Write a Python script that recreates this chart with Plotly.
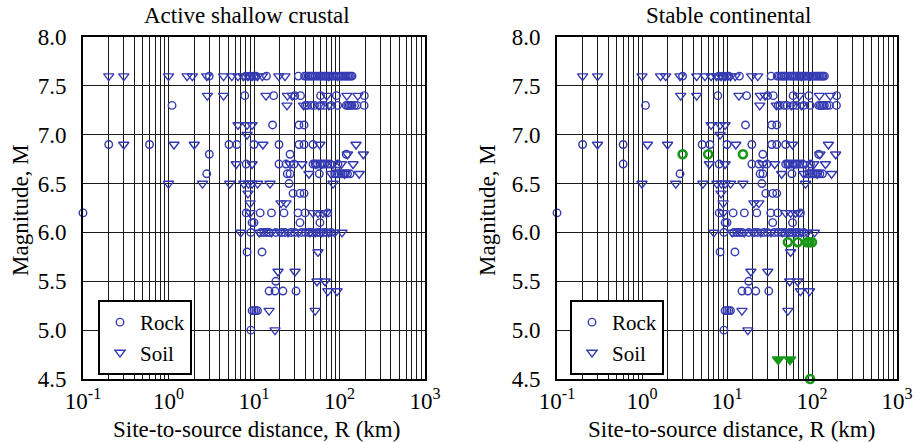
import plotly.graph_objects as go

# ---------------- data ----------------
# Blue "Rock" (circles), common to both panels
rock_R = [3.0, 8.0, 9.0, 10, 10.5, 14, 33, 39, 41, 43, 45, 47, 49, 52, 55, 58, 61, 64, 67, 70, 73, 77, 81, 85, 90,
          100, 105, 110, 115, 120, 125, 130, 135, 140,
          7.8, 17, 30, 35, 60, 92, 195,
          1.1, 40, 42, 47, 51, 60, 66, 80, 95, 120, 125, 130, 135, 140, 150, 160, 194,
          16.5, 33.6, 38.5,
          0.2, 0.6, 5.1, 6.3, 10, 19.6, 33.6, 38.5, 49,
          3.0, 26.4, 120,
          8.1, 19.6, 23.7, 29.4, 49, 52, 55, 59, 63, 67, 72, 78, 96,
          2.8, 24.5, 26.4, 58, 88, 93, 98, 104, 110, 117, 124, 133,
          25.7,
          28.6, 34.5, 38.5,
          0.1, 8.1, 11.8, 16, 22.4, 32.7, 39.5, 73,
          9.5, 10, 34.5, 59,
          9.2, 12, 13, 14, 15, 18, 21, 23, 27, 30, 36, 40, 44, 48, 55, 58, 65, 70, 80,
          8.3, 12.4,
          18,
          15, 17.6, 21.8, 31,
          9.5, 10, 10.5, 11,
          9.2]
rock_M = [7.6] * 34 + \
         [7.4] * 7 + \
         [7.3] * 17 + \
         [7.1] * 3 + \
         [6.9] * 9 + \
         [6.8] * 3 + \
         [6.7] * 13 + \
         [6.6] * 12 + \
         [6.5] * 1 + \
         [6.4] * 3 + \
         [6.2] * 8 + \
         [6.1] * 4 + \
         [6.0] * 19 + \
         [5.8] * 2 + \
         [5.5] * 1 + \
         [5.4] * 4 + \
         [5.2] * 4 + \
         [5.0] * 1

# Blue "Soil" (triangles), common to both panels
soil_R = [0.2, 0.3, 1.0, 1.65, 1.9, 2.8, 4.4, 5.5, 6.5, 7.5, 8.5, 9.5, 11, 12.5, 19.5, 23, 75, 95,
          2.85, 4.4, 13.8, 24.6, 28, 71, 122, 164,
          24.3, 38, 57, 75,
          6.5, 8.3, 9.5,
          8.3,
          0.3, 1.16, 2.0, 12.7, 59, 156,
          124, 190,
          6.2, 9.5, 26.4, 36.4, 53, 62, 84, 105, 144,
          44, 80, 115, 170,
          1.0, 2.5, 5.2, 7.6, 8.6, 9.5, 11, 15.4, 84,
          8.5,
          9.0, 20.7, 23.7,
          9.0, 49, 56, 64, 70,
          7.0, 11.5, 16, 20, 25, 33, 45, 52, 62, 75, 88, 107,
          56,
          19.1, 30.2,
          54.6, 67.7,
          73, 93.5,
          15, 52,
          17.6]
soil_M = [7.6] * 18 + \
         [7.4] * 8 + \
         [7.3] * 4 + \
         [7.1] * 3 + \
         [7.0] * 1 + \
         [6.9] * 6 + \
         [6.8] * 2 + \
         [6.7] * 9 + \
         [6.6] * 4 + \
         [6.5] * 9 + \
         [6.4] * 1 + \
         [6.3] * 3 + \
         [6.2] * 5 + \
         [6.0] * 12 + \
         [5.8] * 1 + \
         [5.6] * 2 + \
         [5.5] * 2 + \
         [5.4] * 2 + \
         [5.2] * 2 + \
         [5.0] * 1

# Extra blue rock point only in the stable continental panel
rock_extra_R = [0.6]
rock_extra_M = [6.7]

# Green records (stable continental panel)
green_rock_R = [3.0, 6.0, 15.4, 52, 68, 87, 93, 100, 95]
green_rock_M = [6.8, 6.8, 6.8, 5.9, 5.9, 5.9, 5.9, 5.9, 4.5]
green_soil_R = [40, 55]
green_soil_M = [4.7, 4.7]

panel_titles = ["Active shallow crustal", "Stable continental"]
x_title = "Site-to-source distance, R (km)"
y_title = "Magnitude, M"
x_major_vals = [0.1, 1, 10, 100, 1000]
x_major_text = ["10<sup>-1</sup>", "10<sup>0</sup>", "10<sup>1</sup>", "10<sup>2</sup>", "10<sup>3</sup>"]
y_tick_vals = [4.5, 5.0, 5.5, 6.0, 6.5, 7.0, 7.5, 8.0]
y_tick_text = ["4.5", "5.0", "5.5", "6.0", "6.5", "7.0", "7.5", "8.0"]

# ---------------- styling ----------------
FONT = "Liberation Serif"
BLUE = "rgb(52,58,178)"
GREEN = "rgb(24,150,24)"
W, H = 921, 442

# tick values: decades plus intermediate values for grid lines
xt_vals, xt_text = [], []
for i, d in enumerate(x_major_vals):
    xt_vals.append(d)
    xt_text.append(x_major_text[i])
    if d < 1000:
        for k in range(2, 10):
            xt_vals.append(k * d)
            xt_text.append("")

fig = go.Figure()

def add_panel(idx, rR, rM, sR, sM):
    xa = "x" if idx == 0 else "x2"
    ya = "y" if idx == 0 else "y2"
    leg = "legend" if idx == 0 else "legend2"
    fig.add_trace(go.Scatter(x=rR, y=rM, mode="markers", name="Rock", xaxis=xa, yaxis=ya, legend=leg,
                             cliponaxis=False,
                             marker=dict(symbol="circle-open", size=7.5, color=BLUE, line=dict(width=1.4, color=BLUE))))
    fig.add_trace(go.Scatter(x=sR, y=sM, mode="markers", name="Soil", xaxis=xa, yaxis=ya, legend=leg,
                             cliponaxis=False,
                             marker=dict(symbol="triangle-down-open", size=9, color=BLUE,
                                         line=dict(width=1.4, color=BLUE))))

add_panel(0, rock_R, rock_M, soil_R, soil_M)
add_panel(1, rock_R + rock_extra_R, rock_M + rock_extra_M, soil_R, soil_M)

fig.add_trace(go.Scatter(x=green_rock_R, y=green_rock_M, mode="markers", xaxis="x2", yaxis="y2",
                         showlegend=False, cliponaxis=False,
                         marker=dict(symbol="circle-open", size=8, color=GREEN, line=dict(width=2.6, color=GREEN))))
fig.add_trace(go.Scatter(x=green_soil_R, y=green_soil_M, mode="markers", xaxis="x2", yaxis="y2",
                         showlegend=False, cliponaxis=False,
                         marker=dict(symbol="triangle-down", size=10, color=GREEN, line=dict(width=1.5, color=GREEN))))

y_dom = [1 - 379 / H, 1 - 37 / H]
x_doms = [[83 / W, 425 / W], [557 / W, 897 / W]]

def xaxis(dom):
    return dict(domain=dom, type="log", range=[-1, 3], tickmode="array", tickvals=xt_vals, ticktext=xt_text,
                showgrid=True, gridcolor="#1a1a1a", gridwidth=1, showline=True, linecolor="black", linewidth=2,
                mirror=True, ticks="", zeroline=False, ticklabelstandoff=0, automargin=False,
                tickfont=dict(family=FONT, size=23, color="black"))

def yaxis(anchor):
    return dict(domain=y_dom, anchor=anchor, range=[4.5, 8.0], tickmode="array", tickvals=y_tick_vals,
                ticktext=y_tick_text, showgrid=True, gridcolor="#1a1a1a", gridwidth=1, showline=True,
                linecolor="black", linewidth=2, mirror=True, ticks="", zeroline=False, ticklabelstandoff=10,
                automargin=False,
                tickfont=dict(family=FONT, size=23, color="black"))

leg_common = dict(xanchor="left", yanchor="top", bgcolor="white", bordercolor="black", borderwidth=2,
                  font=dict(family=FONT, size=21, color="black"), tracegroupgap=0, itemwidth=30)

tfont = dict(family=FONT, size=23, color="black")
annots = []
for i, (tx, xt, yt) in enumerate([(247, 256, 20), (728, 731, 487)]):
    annots.append(dict(text=panel_titles[i], x=tx / W, y=1 - 16 / H, xref="paper", yref="paper", showarrow=False,
                       font=tfont, xanchor="center", yanchor="middle"))
    annots.append(dict(text=x_title, x=xt / W, y=1 - 429 / H, xref="paper", yref="paper", showarrow=False,
                       font=tfont, xanchor="center", yanchor="middle"))
    annots.append(dict(text=y_title, x=yt / W, y=1 - 210 / H, xref="paper", yref="paper", showarrow=False,
                       font=tfont, xanchor="center", yanchor="middle", textangle=-90))

fig.update_layout(
    width=W, height=H, margin=dict(l=0, r=0, t=0, b=0, autoexpand=False),
    paper_bgcolor="white", plot_bgcolor="white",
    xaxis=xaxis(x_doms[0]), yaxis=yaxis("x"),
    xaxis2=dict(xaxis(x_doms[1]), anchor="y2"), yaxis2=yaxis("x2"),
    legend=dict(leg_common, x=98 / W, y=1 - 300 / H),
    legend2=dict(leg_common, x=570 / W, y=1 - 300 / H),
    annotations=annots,
)
fig.update_xaxes(autorange=False)
fig.update_yaxes(autorange=False)

fig.write_html("out.html")
